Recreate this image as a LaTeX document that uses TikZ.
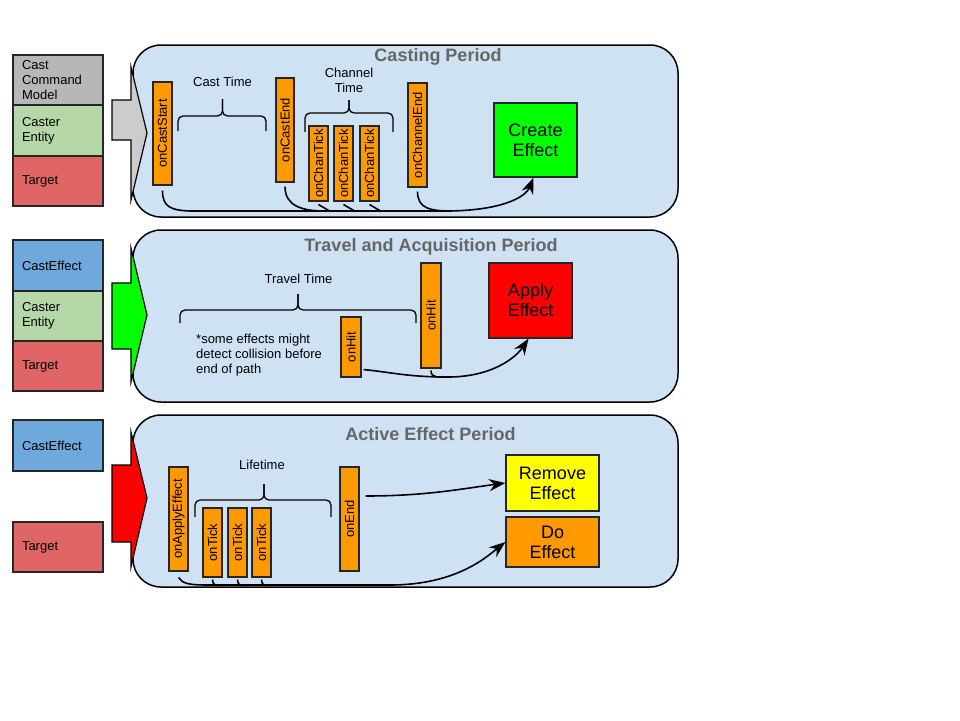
\documentclass[tikz,border=0pt]{standalone}
\usepackage{fontspec}
\usepackage{graphicx}
\setmainfont{Liberation Sans}
\usetikzlibrary{arrows.meta}
\definecolor{panelblue}{HTML}{CFE2F3}
\definecolor{titlegray}{HTML}{666666}
\definecolor{cmdgray}{HTML}{B7B7B7}
\definecolor{entitygreen}{HTML}{B6D7A8}
\definecolor{targetred}{HTML}{E06666}
\definecolor{effectblue}{HTML}{6FA8DC}
\definecolor{barorange}{HTML}{FF9900}
\definecolor{chevgray}{HTML}{CCCCCC}
\definecolor{brightgreen}{HTML}{00FF00}
\definecolor{brightred}{HTML}{FF0000}
\definecolor{brightyellow}{HTML}{FFFF00}
\begin{document}
\begin{tikzpicture}[x=1pt,y=-1pt,
  panel/.style={draw=black, line width=1.5pt, fill=panelblue, rounded corners=28pt,
    minimum width=545pt, minimum height=172pt, inner sep=0pt},
  title/.style={font=\fontsize{18}{20}\selectfont\bfseries, text=titlegray, inner sep=0pt, anchor=base},
  label/.style={font=\fontsize{13}{15}\selectfont, inner sep=0pt, anchor=base},
  srcbox/.style={draw=black!85, line width=1.3pt, minimum width=90pt, minimum height=50pt,
    text width=72pt, inner xsep=9pt, inner ysep=0pt, align=left, font=\fontsize{13}{15}\selectfont},
  bar/.style={draw=black!85, line width=1.1pt, fill=barorange, inner sep=0pt,
    font=\fontsize{13}{15}\selectfont},
  effect/.style={draw=black!85, line width=1.3pt, inner sep=0pt, align=center,
    font=\fontsize{18}{20}\selectfont},
  chevron/.style={draw=black, line width=1.2pt, line join=miter},
  brace/.style={draw=black, line width=1.3pt, rounded corners=5pt},
  flowline/.style={draw=black, line width=1.6pt},
  flow/.style={flowline, -{Stealth[scale=1.6]}}
]
\useasboundingbox (0,0) rectangle (960,720);

% ---------- panels ----------
\node[panel] (p1) at (405.5,131) {};
\node[panel] (p2) at (405.5,316) {};
\node[panel] (p3) at (405.5,501) {};

% ---------- chevrons leading into each panel ----------
\draw[chevron, fill=chevgray] (112,100) -- (131,100) -- (131,67) -- (147,133) -- (131,200) -- (131,140) -- (112,140) -- cycle;
\draw[chevron, fill=brightgreen] (112,283) -- (131,283) -- (131,248) -- (147,315) -- (131,382) -- (131,349) -- (112,349) -- cycle;
\draw[chevron, fill=brightred] (112,465) -- (131,465) -- (131,432) -- (147,498) -- (131,567) -- (131,542) -- (112,542) -- cycle;

% ---------- titles ----------
\node[title] (t1) at (438,61.5) {Casting Period};
\node[title] (t2) at (431,251) {Travel and Acquisition Period};
\node[title] (t3) at (430.5,440) {Active Effect Period};

% ---------- participants ----------
\node[srcbox, fill=cmdgray, minimum height=50pt] (m1) at (58,80) {Cast\\Command\\Model};
\node[srcbox, fill=entitygreen, minimum height=51pt] (e1) at (58,130.5) {Caster\\Entity};
\node[srcbox, fill=targetred, minimum height=50pt] (g1) at (58,181) {Target};

\node[srcbox, fill=effectblue, minimum height=51pt] (c2) at (58,265.5) {CastEffect};
\node[srcbox, fill=entitygreen, minimum height=50pt] (e2) at (58,316) {Caster\\Entity};
\node[srcbox, fill=targetred, minimum height=50pt] (g2) at (58,366) {Target};

\node[srcbox, fill=effectblue, minimum height=51pt] (c3) at (58,445.5) {CastEffect};
\node[srcbox, fill=targetred, minimum height=50pt] (g3) at (58,547) {Target};

% ---------- casting period ----------
\node[bar, minimum width=19pt, minimum height=103pt] (cs) at (162.5,133.5) {\rotatebox{90}{onCastStart}};
\node[bar, minimum width=18pt, minimum height=104pt] (cend) at (285,130) {\rotatebox{90}{onCastEnd}};
\node[bar, minimum width=19pt, minimum height=75pt] (ct1) at (318.5,163.5) {\rotatebox{90}{onChanTick}};
\node[bar, minimum width=19pt, minimum height=75pt] (ct2) at (343.5,163.5) {\rotatebox{90}{onChanTick}};
\node[bar, minimum width=19pt, minimum height=75pt] (ct3) at (369.5,163.5) {\rotatebox{90}{onChanTick}};
\node[bar, minimum width=19pt, minimum height=104pt] (chend) at (417.5,135) {\rotatebox{90}{onChannelEnd}};
\node[effect, fill=brightgreen, minimum width=83pt, minimum height=74pt] (create) at (535.5,140) {Create\\Effect};

\node[label] (castlbl) at (222.5,86) {Cast Time};
\draw[brace] (178,131) -- (178,116) -- (222.5,116) -- (222.5,99);
\draw[brace] (266,131) -- (266,116) -- (222.5,116) -- (222.5,99);

\node[label] (chanlbl1) at (349,77) {Channel};
\node[label] (chanlbl2) at (349,92) {Time};
\draw[brace] (305,132) -- (305,113) -- (349,113) -- (349,100);
\draw[brace] (393,132) -- (393,113) -- (349,113) -- (349,100);

\coordinate (j1) at (194,211);
\coordinate (j2) at (445,211);
\draw[flow] ([yshift=-5pt]cs.south) .. controls +(0,16) and +(-24,0) .. (j1) -- (j2)
  .. controls +(55,0) and +(-8,20) .. ([xshift=-2pt]create.south);
\draw[flowline] ([yshift=-4pt]cend.south) .. controls +(0,20) and +(-22,0) .. (325,211);
\draw[flowline] ([yshift=-3pt]ct1.south) -- ++(12,7);
\draw[flowline] ([yshift=-3pt]ct2.south) -- ++(12,7);
\draw[flowline] ([yshift=-3pt]ct3.south) -- ++(12,7);
\draw[flowline] ([yshift=-4pt]chend.south) .. controls +(0,17) and +(-22,0) .. (452,211);

% ---------- travel and acquisition period ----------
\node[label] (travlbl) at (298.5,283) {Travel Time};
\draw[brace] (180,323) -- (180,310) -- (298,310) -- (298,294);
\draw[brace] (416,323) -- (416,310) -- (298,310) -- (298,294);
\node[font=\fontsize{13}{15}\selectfont, align=left, anchor=north west, inner sep=0pt] (note)
  at (196,334) {*some effects might\\detect collision before\\end of path};

\node[bar, minimum width=20pt, minimum height=60pt] (hit1) at (351,347) {\rotatebox{90}{onHit}};
\node[bar, minimum width=20pt, minimum height=105pt] (hit2) at (431,315.5) {\rotatebox{90}{onHit}};
\node[effect, fill=brightred, minimum width=83pt, minimum height=75pt] (apply) at (530.5,300.5) {Apply\\Effect};

\coordinate (j3) at (448,377);
\draw[flow] ([shift={(2pt,8pt)}]hit1.south east) .. controls +(30,3) and +(-40,0) .. (j3)
  .. controls +(45,0) and +(-12,18) .. ([xshift=-2pt]apply.south);
\draw[flowline] ([yshift=-2pt]hit2.south) .. controls +(0,8) and +(-9,0) .. (j3);

% ---------- active effect period ----------
\node[label] (lifelbl) at (262,469) {Lifetime};
\draw[brace] (195,517) -- (195,500) -- (264,500) -- (264,484);
\draw[brace] (331,517) -- (331,500) -- (264,500) -- (264,484);

\node[bar, minimum width=19pt, minimum height=104pt] (apeff) at (178.5,519) {\rotatebox{90}{onApplyEffect}};
\node[bar, minimum width=19pt, minimum height=69pt] (tk1) at (212.5,542.5) {\rotatebox{90}{onTick}};
\node[bar, minimum width=19pt, minimum height=69pt] (tk2) at (237.5,542.5) {\rotatebox{90}{onTick}};
\node[bar, minimum width=19pt, minimum height=69pt] (tk3) at (261.5,542.5) {\rotatebox{90}{onTick}};
\node[bar, minimum width=19pt, minimum height=104pt] (oend) at (349.5,519) {\rotatebox{90}{onEnd}};
\node[effect, fill=brightyellow, minimum width=93pt, minimum height=56pt] (remove) at (552.5,483) {Remove\\Effect};
\node[effect, fill=barorange, minimum width=93pt, minimum height=50pt] (doeff) at (552.5,542) {Do\\Effect};

\draw[flow] ([shift={(6pt,23pt)}]oend.east) .. controls +(60,0) and +(-45,6) .. (remove.west);

\coordinate (j4) at (207,585);
\coordinate (j5) at (390,585);
\draw[flow] ([yshift=-6pt]apeff.south) .. controls +(4,6) and +(-18,0) .. (j4) -- (j5)
  .. controls +(65,0) and +(-20,16) .. (doeff.west);
\draw[flowline] ([yshift=-2pt]tk1.south) .. controls +(0,5) and +(-3,0) .. +(6,6);
\draw[flowline] ([yshift=-2pt]tk2.south) .. controls +(0,5) and +(-3,0) .. +(6,6);
\draw[flowline] ([yshift=-2pt]tk3.south) .. controls +(0,5) and +(-3,0) .. +(6,6);
\end{tikzpicture}
\end{document}
